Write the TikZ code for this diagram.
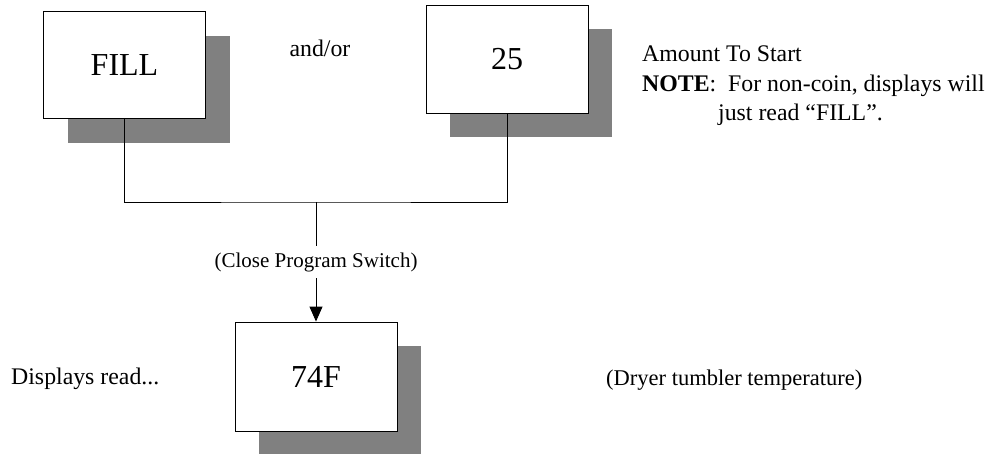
\documentclass[tikz,border=0pt]{standalone}
\usepackage{fontspec}
\setmainfont{Liberation Serif}
\usetikzlibrary{arrows.meta,shadows}
\definecolor{shadowgray}{HTML}{808080}
\begin{document}
\begin{tikzpicture}[x=1pt,y=-1pt,
  disp/.style={draw=black, fill=white, line width=0.9pt, inner sep=0pt,
    minimum width=162pt, minimum height=107pt,
    font=\fontsize{32}{32}\selectfont,
    drop shadow={shadow xshift=24pt, shadow yshift=-24pt, fill=shadowgray, opacity=1, draw=none}},
  txt/.style={inner sep=0pt, font=\fontsize{23.8}{23.8}\selectfont},
  conn/.style={draw=black, line width=0.9pt}
]
\useasboundingbox (0,0) rectangle (999,453);

\node[disp] (fill) at (124.5,65) {FILL};
\node[disp, minimum height=108pt] (q) at (507,59) {25};
\node[disp, minimum height=109pt] (t) at (316,376.5) {74F};

\node[txt, anchor=base] (andor) at (320,56) {and/or};
\node[txt, anchor=base west] (amt) at (642,61) {Amount To Start};
\node[txt, anchor=base west] (note) at (642,91) {\textbf{NOTE}:\ \ For non-coin, displays will};
\node[txt, anchor=base west] (just) at (718,120) {just read “FILL”.};
\node[txt, anchor=base west] (disp) at (11,384) {Displays read...};
\node[txt, anchor=base west, font=\fontsize{22.5}{22.5}\selectfont] (dry) at (606,385) {(Dryer tumbler temperature)};

\coordinate (j) at (316,202);
\node[inner sep=0pt, minimum height=32pt, font=\fontsize{21}{21}\selectfont] (close) at (316,262) {(Close Program Switch)};

\draw[conn] (fill.south) |- (j) -| (q.south);
\draw[conn] (j) -- (close.north);
\draw[conn, -{Triangle[width=13pt,length=15pt]}] (close.south) -- (t.north);
\end{tikzpicture}
\end{document}
